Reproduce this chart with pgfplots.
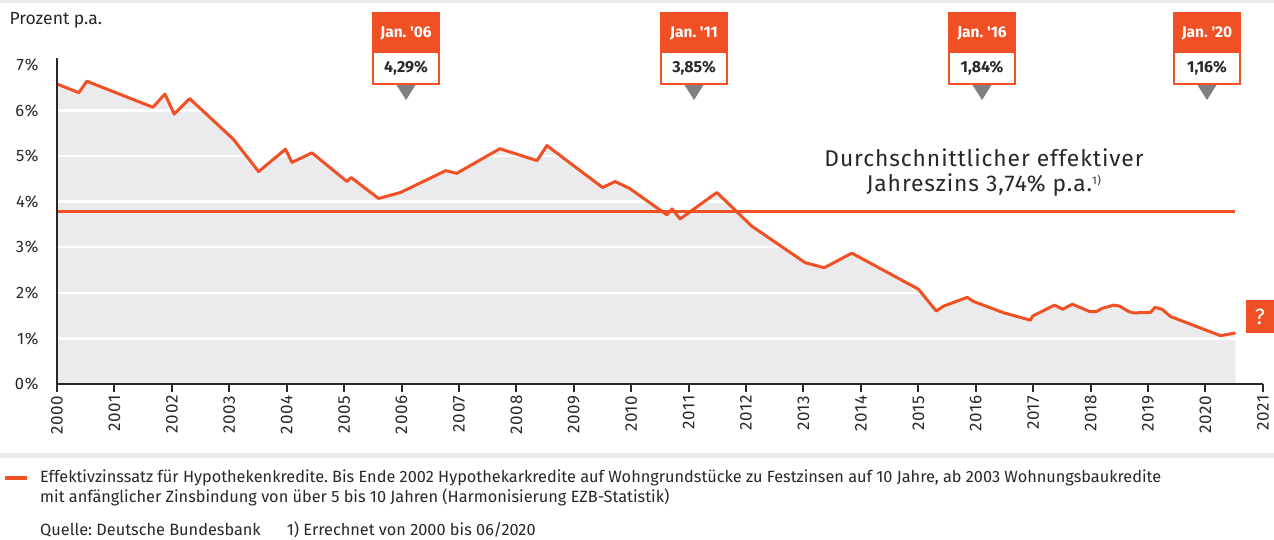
\documentclass[border=0pt]{standalone}
\usepackage{pgfplots}
\pgfplotsset{compat=1.18}
\usepackage{fontspec}
\setmainfont{Fira Sans}
\newfontfamily\wide[LetterSpace=4]{Fira Sans}
\definecolor{sorange}{RGB}{240,80,35}
\definecolor{fillgray}{RGB}{235,235,237}
\definecolor{txt}{RGB}{40,40,40}
\definecolor{band}{RGB}{236,236,236}
\definecolor{tri}{RGB}{128,128,130}
\frenchspacing
\pgfplotstableread{
x y
2000.00 6.58
2000.38 6.39
2000.52 6.64
2001.67 6.07
2001.88 6.36
2002.04 5.92
2002.31 6.26
2003.07 5.37
2003.51 4.66
2003.98 5.15
2004.09 4.86
2004.44 5.07
2005.05 4.44
2005.12 4.53
2005.60 4.07
2005.98 4.20
2006.77 4.68
2006.96 4.62
2007.71 5.16
2008.36 4.90
2008.53 5.23
2009.50 4.31
2009.72 4.44
2009.97 4.29
2010.62 3.71
2010.71 3.84
2010.85 3.62
2011.49 4.20
2012.10 3.46
2013.03 2.66
2013.36 2.55
2013.84 2.87
2015.00 2.08
2015.31 1.60
2015.44 1.71
2015.85 1.90
2015.96 1.81
2016.49 1.56
2016.95 1.40
2016.99 1.49
2017.37 1.73
2017.51 1.64
2017.68 1.75
2017.98 1.59
2018.10 1.59
2018.20 1.66
2018.40 1.73
2018.50 1.71
2018.66 1.59
2018.74 1.56
2019.04 1.57
2019.12 1.68
2019.24 1.64
2019.39 1.48
2020.26 1.06
2020.52 1.12
}\zinsdata
\newcommand\callout[3]{%
  \fill[sorange] (#1pt-34pt,-12pt) rectangle (#1pt+34pt,-85pt);
  \fill[white] (#1pt-32pt,-53pt) rectangle (#1pt+32pt,-83pt);
  \node[white, font=\bfseries\fontsize{15.5}{16}\selectfont] at (#1pt,-33pt) {#2};
  \node[txt, font=\bfseries\fontsize{16}{16}\selectfont] at (#1pt,-68.5pt) {#3};
  \fill[tri] (#1pt-9.5pt,-85pt) -- (#1pt+9.5pt,-85pt) -- (#1pt,-100pt) -- cycle;
}
\begin{document}
\begin{tikzpicture}
\fill[white] (0,0) rectangle (1274pt,-539pt);
\useasboundingbox (0,0) rectangle (1274pt,-539pt);
\fill[band] (0,0) rectangle (1274pt,-3pt);
\fill[band] (0,-453pt) rectangle (1274pt,-458pt);
\begin{axis}[
  at={(57pt,-384pt)}, anchor=south west,
  scale only axis, width=1206pt, height=326pt,
  xmin=2000, xmax=2021, ymin=0, ymax=7.15,
  axis on top,
  axis x line=bottom, axis y line=left,
  axis line style={-, line width=2pt, color=txt},
  xtick={2000,...,2021},
  ytick={0,...,7},
  /pgf/number format/assume math mode=true,
  /pgf/number format/1000 sep={},
  xticklabel style={rotate=90, anchor=east, font=\wide\fontsize{17}{17}\selectfont, text=txt},
  yticklabel={\pgfmathprintnumber{\tick}\%},
  yticklabel style={anchor=east, font=\wide\fontsize{16.5}{17}\selectfont, text=txt, xshift=-7pt},
  xtick style={line width=2pt, color=txt},
  ytick style={draw=none},
  tick align=outside,
  major tick length=8pt,
  clip=false,
]
\addplot[draw=none, fill=fillgray] table[x=x, y=y] {\zinsdata} \closedcycle;
\draw[white, line width=2.5pt] (axis cs:2000,1) -- (axis cs:2020.52,1);
\draw[white, line width=2.5pt] (axis cs:2000,2) -- (axis cs:2020.52,2);
\draw[white, line width=2.5pt] (axis cs:2000,3) -- (axis cs:2020.52,3);
\draw[white, line width=2.5pt] (axis cs:2000,4) -- (axis cs:2020.52,4);
\draw[white, line width=2.5pt] (axis cs:2000,5) -- (axis cs:2020.52,5);
\draw[white, line width=2.5pt] (axis cs:2000,6) -- (axis cs:2020.52,6);
\addplot[sorange, line width=2.5pt] coordinates {(2000,3.78) (2020.52,3.78)};
\addplot[sorange, line width=3pt, line join=round] table[x=x, y=y] {\zinsdata};
\end{axis}
\node[anchor=west, text=txt, font=\fontsize{17.5}{18}\selectfont] at (6pt,-20pt) {Prozent p.a.};
\callout{406}{Jan. \textquotesingle06}{4,29\%}
\callout{694}{Jan. \textquotesingle11}{3,85\%}
\callout{982}{Jan. \textquotesingle16}{1,84\%}
\callout{1207}{Jan. \textquotesingle20}{1,16\%}
\node[align=center, text=txt, font=\wide\fontsize{22.8}{25}\selectfont] at (984pt,-173pt) {Durchschnittlicher effektiver\\Jahreszins 3,74\% p.a.\textsuperscript{\fontsize{11}{11}\selectfont 1)}};
\fill[sorange] (1246pt,-300pt) rectangle (1274pt,-333pt);
\node[white, font=\fontsize{22}{22}\selectfont] at (1260pt,-316.5pt) {?};
\fill[sorange] (5pt,-476pt) rectangle (27pt,-480pt);
\node[anchor=north west, align=left, text=txt, font=\fontsize{16.3}{19.5}\selectfont, inner sep=0pt] at (40pt,-470pt) {Effektivzinssatz für Hypothekenkredite. Bis Ende 2002 Hypothekarkredite auf Wohngrundstücke zu Festzinsen auf 10 Jahre, ab 2003 Wohnungsbaukredite\\mit anfänglicher Zinsbindung von über 5 bis 10 Jahren (Harmonisierung EZB-Statistik)};
\node[anchor=west, text=txt, font=\fontsize{16.3}{18}\selectfont, inner sep=0pt] at (40pt,-530pt) {Quelle: Deutsche Bundesbank\hspace{26pt}1) Errechnet von 2000 bis 06/2020};
\end{tikzpicture}
\end{document}
